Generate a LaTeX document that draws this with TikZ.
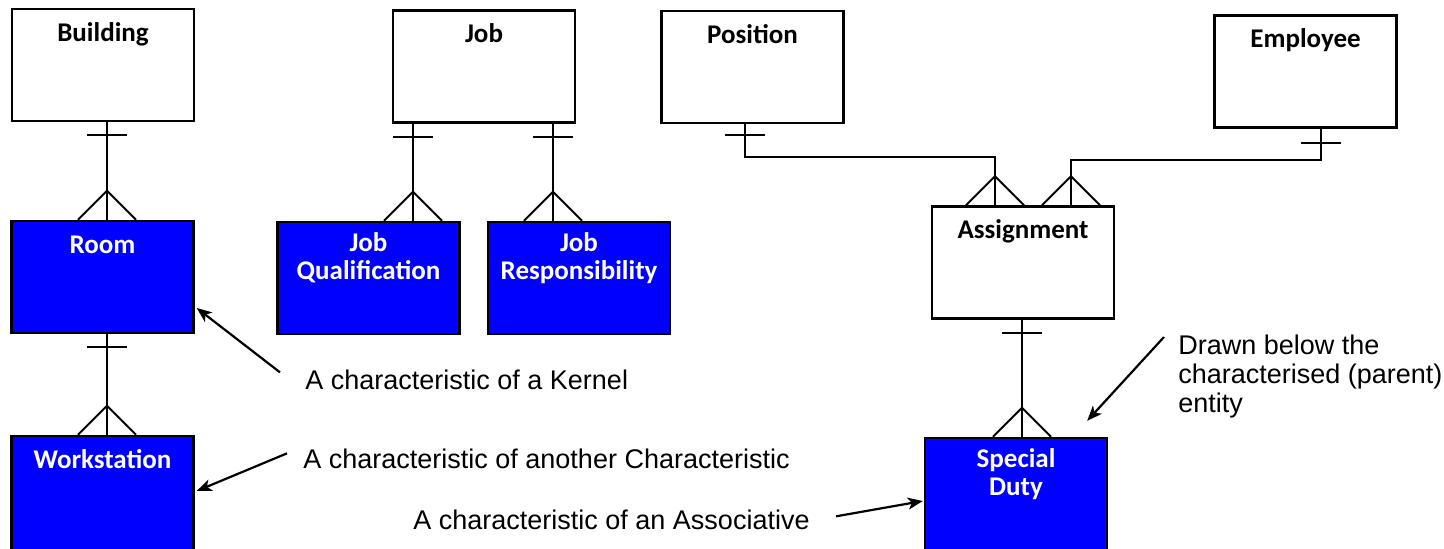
\documentclass[tikz,border=0pt]{standalone}
\usepackage{fontspec}
\setmainfont{Liberation Sans}
\newfontfamily\entfont{Carlito}
\usetikzlibrary{arrows.meta,calc}
\definecolor{charblue}{RGB}{0,0,255}

\begin{document}
\begin{tikzpicture}[
    x=0.5pt, y=-0.5pt,
    entity/.style={rectangle, draw, line width=1.2pt, minimum width=91pt,
                   minimum height=56pt, inner sep=0pt},
    kernel/.style={entity, fill=white},
    charbox/.style={entity, fill=charblue},
    tall/.style={minimum height=59pt},
    etext/.style={anchor=north, inner sep=0pt, yshift=-5.5pt, align=center,
                  font=\entfont\bfseries\fontsize{13.5}{14}\selectfont,
                  execute at begin node={\rule{0pt}{11pt}}},
    wtext/.style={etext, text=white},
    note/.style={inner sep=0pt, align=left, font=\fontsize{13.5}{14.5}\selectfont},
    rel/.style={line width=1pt},
    notearr/.style={-{Stealth[length=7.5pt,width=6pt,inset=2pt]}, line width=1.1pt},
    onebar/.pic={\draw[rel] (-10pt,0pt) -- (10pt,0pt);},
    crowfoot/.pic={\draw[rel] (-14.5pt,0pt) -- (0pt,14.5pt) -- (14.5pt,0pt);}
]
    \useasboundingbox (0,0) rectangle (1444,549);

    % kernels and associative
    \node[kernel, label={[etext]north:Building}] (building) at (103,65)    {};
    \node[kernel, label={[etext]north:Job}]      (job)      at (484,66.5)  {};
    \node[kernel, label={[etext]north:Position}] (position) at (752.5,67)  {};
    \node[kernel, label={[etext]north:Employee}] (employee) at (1305.5,71.5) {};
    \node[kernel, label={[etext]north:Assignment}] (assign) at (1023,262.5) {};

    % characteristics
    \node[charbox, label={[wtext]north:Room}]               (room)    at (102.5,277) {};
    \node[charbox, label={[wtext]north:Job\\Qualification}]  (jobqual) at (368.5,278) {};
    \node[charbox, label={[wtext]north:Job\\Responsibility}] (jobresp) at (579,278)   {};
    \node[charbox, tall, label={[wtext]north:Workstation}]  (workst)  at (102.5,495) {};
    \node[charbox, tall, label={[wtext]north:Special\\Duty}] (duty)   at (1016,497)  {};

    % one-to-many, straight down
    \foreach \pa/\dx/\ch in {building/2pt/room, job/-35.5pt/jobqual, job/34.5pt/jobresp,
                             room/2.25pt/workst, assign/-0.5pt/duty}{
        \draw[rel] ([xshift=\dx]\pa.south) coordinate (ptop) -- (ptop |- \ch.north) coordinate (pbot);
        \pic at ([yshift=-6.5pt]ptop) {onebar};
        \pic at (pbot) {crowfoot};
    }

    % one-to-many, bent into the associative
    \draw[rel] ([xshift=-3.75pt]position.south) coordinate (ptop) -- ++(0,-16.5pt)
        -| ([xshift=-14pt]assign.north) coordinate (pbot);
    \pic at ([yshift=-5.5pt]ptop) {onebar};
    \pic at (pbot) {crowfoot};
    \draw[rel] ([xshift=7.75pt]employee.south) coordinate (etop) -- ++(0,-15.5pt)
        -| ([xshift=24pt]assign.north) coordinate (ebot);
    \pic at ([yshift=-7pt]etop) {onebar};
    \pic at (ebot) {crowfoot};

    % notes
    \node[note, anchor=base west] (kerneltxt) at (305,390) {A characteristic of a Kernel};
    \node[note, anchor=base west] (chartxt)   at (303,468) {A characteristic of another Characteristic};
    \node[note, anchor=base west] (assoctxt)  at (413,530) {A characteristic of an Associative};
    \node[note, anchor=north west] (parenttxt) at (1178,334)
        {\rule{0pt}{10pt}Drawn below the\\characterised (parent)\\entity};

    \draw[notearr] ($(kerneltxt.west)+(-25,-8)$) -- ($(room.east)+(2,31)$);
    \draw[notearr] ($(chartxt.west)+(-16,-5)$)   -- ($(workst.east)+(2,-4)$);
    \draw[notearr] ($(assoctxt.east)+(26,-4)$)   -- ($(duty.west)+(-1,4)$);
    \draw[notearr] ($(parenttxt.north west)+(-14,3)$) -- ($(duty.north east)+(-21,-16)$);
\end{tikzpicture}
\end{document}
